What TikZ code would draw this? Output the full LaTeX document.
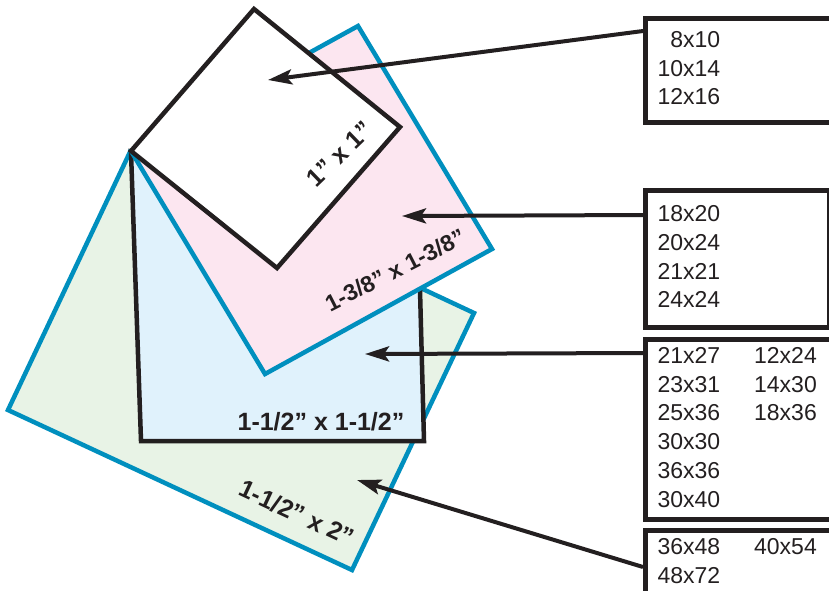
\documentclass[tikz,border=0pt]{standalone}
\usepackage{fontspec}
\setmainfont{Liberation Sans}
\usetikzlibrary{arrows.meta}

\definecolor{ink}{RGB}{35,31,32}
\definecolor{matblue}{RGB}{0,143,190}
\definecolor{pinkfill}{RGB}{252,230,240}
\definecolor{bluefill}{RGB}{224,242,252}
\definecolor{greenfill}{RGB}{232,243,230}

\begin{document}
\begin{tikzpicture}[x=1pt,y=-1pt,>={Stealth[length=24pt,width=15pt,inset=5pt]},
	mat/.style={line width=4.5pt,line join=miter},
	sizes/.style={draw=ink,text=ink,line width=5pt,shape=rectangle,anchor=north west,inner xsep=12pt,inner ysep=0pt,align=left,font=\fontsize{23}{28.7}\selectfont},
	lbl/.style={inner sep=0pt,text=ink,font=\fontsize{25}{30}\selectfont\bfseries},]
	\useasboundingbox (0,0) rectangle (829,590);
	\clip (0,0) rectangle (829,590);
	% create mats
	\filldraw[mat,fill=greenfill,draw=matblue] (130,152) -- (474,313) -- (352,570) -- (8,410) -- cycle;
	\filldraw[mat,fill=bluefill,draw=ink] (131,152) -- (420,290) -- (424,441) -- (141,441) -- cycle;
	\filldraw[mat,fill=pinkfill,draw=matblue] (358,26) -- (492,249) -- (265,374) -- (131,151) -- cycle;
	\filldraw[mat,fill=white,draw=ink] (254,9) -- (400,127) -- (277,268) -- (131,151) -- cycle;
	
	% opening sizes
	\node (one) [lbl,rotate=44] at (340,154) {1” x 1”};
	\node (thr) [lbl,rotate=27,font=\fontsize{23}{28}\selectfont\bfseries] at (395,270) {1-3/8” x 1-3/8”};
	\node (half) [lbl] at (321,422) {1-1/2” x 1-1/2”};
	\node (two) [lbl,rotate=-25] at (297,513) {1-1/2” x 2”};
	
	% frame sizes
	\node (sz1) [sizes,minimum height=104pt,text width=176pt] at (643,16) {\begin{tabular}{@{}r@{}}8x10\\10x14\\12x16\end{tabular}};
	\node (sz2) [sizes,minimum height=137pt,text width=160pt] at (643,188) {\begin{tabular}{@{}l@{}}18x20\\20x24\\21x21\\24x24\end{tabular}};
	\node (sz3) [sizes,minimum height=180pt,text width=176pt] at (643,337) {\begin{tabular}{@{}l@{\hspace{34pt}}l@{}}21x27 & 12x24\\23x31 & 14x30\\25x36 & 18x36\\30x30\\36x36\\30x40\end{tabular}};
	\node (sz4) [sizes,minimum height=66pt,text width=176pt] at (643,528) {\begin{tabular}{@{}l@{\hspace{34pt}}l@{}}36x48 & 40x54\\48x72\end{tabular}};
	
	% arrow ends
	\coordinate (tOne) at (268,80);
	\coordinate (tThr) at (402,216);
	\coordinate (tHalf) at (365,354);
	\coordinate (tTwo) at (357,480);
	
	% point sizes to mats
	\draw[->,draw=ink,line width=4pt] ([yshift=-15pt]sz1.north west) to (tOne);
	\draw[->,draw=ink,line width=4pt] ([yshift=-27pt]sz2.north west) to (tThr);
	\draw[->,draw=ink,line width=4pt] ([yshift=-16pt]sz3.north west) to (tHalf);
	\draw[->,draw=ink,line width=4pt] ([yshift=-39pt]sz4.north west) to (tTwo);
\end{tikzpicture}
\end{document}
